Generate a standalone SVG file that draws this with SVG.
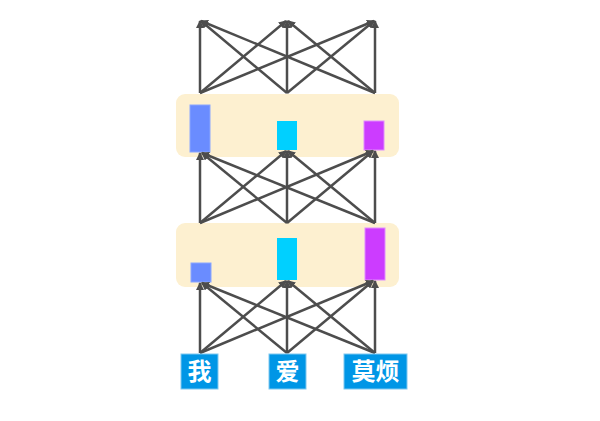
<svg xmlns="http://www.w3.org/2000/svg" width="600" height="421" viewBox="0 0 600 421">
<defs>
<marker id="ah" markerWidth="8" markerHeight="8" refX="7" refY="4" orient="auto" markerUnits="userSpaceOnUse" viewBox="0 0 8 8"><path d="M0,0 L8,4 L0,8 z" fill="#4d4d4d"/></marker>
<style>
.c line{stroke:#4d4d4d;stroke-width:2.5;marker-end:url(#ah)}
.box{fill:#fdf0d0}
.lab rect{fill:#0096e6;stroke:#7fc8f0;stroke-width:1}
.lab text{font-family:"Noto Sans CJK SC",sans-serif;font-weight:bold;font-size:24px;fill:#fff;text-anchor:middle}
</style>
</defs>
<rect width="600" height="421" fill="#fff"/>
<g id="layer2"><rect class="box" x="176" y="94" width="223" height="63" rx="9"/>
<rect x="190" y="105" width="20" height="47" fill="#6a8cff" stroke="#8aa6ff"/>
<rect x="277" y="121" width="20" height="29" fill="#00d0ff"/>
<rect x="364" y="121" width="20" height="29" fill="#cc3cff" stroke="#e08cff"/></g>
<g id="layer1"><rect class="box" x="176" y="223" width="223" height="64" rx="9"/>
<rect x="191" y="263" width="20" height="19" fill="#6a8cff" stroke="#8aa6ff"/>
<rect x="277" y="238" width="20" height="42" fill="#00d0ff"/>
<rect x="365" y="228" width="20" height="52" fill="#cc3cff" stroke="#e08cff"/></g>
<g class="c" id="connectors">
<line x1="200" y1="93" x2="200" y2="21"/><line x1="200" y1="93" x2="286" y2="21"/><line x1="200" y1="93" x2="374" y2="21"/>
<line x1="287" y1="93" x2="201" y2="21"/><line x1="287" y1="93" x2="287" y2="21"/><line x1="287" y1="93" x2="374" y2="21"/>
<line x1="375" y1="93" x2="201" y2="21"/><line x1="375" y1="93" x2="288" y2="21"/><line x1="375" y1="93" x2="375" y2="21"/>
<line x1="200" y1="223" x2="200" y2="153"/><line x1="200" y1="223" x2="286" y2="151"/><line x1="200" y1="223" x2="373" y2="151"/>
<line x1="287" y1="223" x2="202" y2="153"/><line x1="287" y1="223" x2="287" y2="151"/><line x1="287" y1="223" x2="373" y2="151"/>
<line x1="375" y1="223" x2="202" y2="153"/><line x1="375" y1="223" x2="288" y2="151"/><line x1="375" y1="223" x2="375" y2="151"/>
<line x1="200" y1="353" x2="200" y2="283"/><line x1="200" y1="353" x2="286" y2="281"/><line x1="200" y1="353" x2="373" y2="281"/>
<line x1="287" y1="353" x2="202" y2="283"/><line x1="287" y1="353" x2="287" y2="281"/><line x1="287" y1="353" x2="373" y2="281"/>
<line x1="375" y1="353" x2="202" y2="283"/><line x1="375" y1="353" x2="288" y2="281"/><line x1="375" y1="353" x2="375" y2="281"/>
</g>
<g id="w1" class="lab"><rect x="181" y="354" width="37" height="35"/><text x="199.5" y="380">我</text></g>
<g id="w2" class="lab"><rect x="269" y="354" width="37" height="35"/><text x="287.5" y="380">爱</text></g>
<g id="w3" class="lab"><rect x="344" y="354" width="63" height="35"/><text x="375.5" y="380">莫烦</text></g>
</svg>
